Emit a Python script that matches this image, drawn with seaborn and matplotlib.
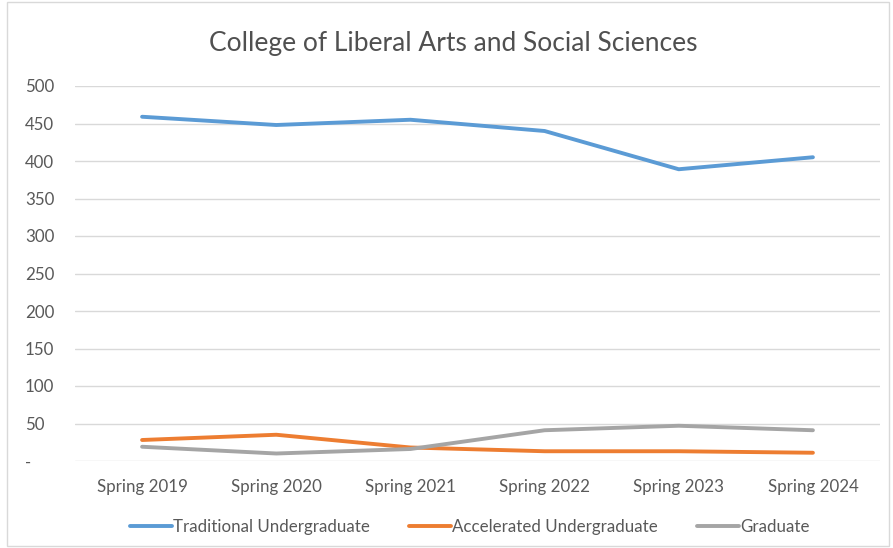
import matplotlib
matplotlib.use("Agg")
from matplotlib import pyplot as plt
from matplotlib.patches import Rectangle
import seaborn as sns
import pandas as pd
import numpy as np

terms = ["Spring 2019", "Spring 2020", "Spring 2021", "Spring 2022", "Spring 2023", "Spring 2024"]
traditional = [459, 448, 455, 440, 389, 405]
accelerated = [28, 35, 18, 13, 13, 11]
graduate = [19, 10, 16, 41, 47, 41]
series_names = ["Traditional Undergraduate", "Accelerated Undergraduate", "Graduate"]
colors = ["#5B9BD5", "#ED7D31", "#A5A5A5"]

df = pd.DataFrame({
    "term": terms * 3,
    "pos": list(range(len(terms))) * 3,
    "value": traditional + accelerated + graduate,
    "series": np.repeat(series_names, len(terms)),
})

sns.set_style("white")
plt.rcParams['font.family'] = ['Lato', 'DejaVu Sans']

fig = plt.figure(figsize=(8.93, 5.48), dpi=100)
ax = fig.add_axes([75 / 893, 1 - 461 / 548, 805 / 893, 375 / 548])

sns.lineplot(data=df, x="pos", y="value", hue="series", hue_order=series_names,
             palette=colors, linewidth=2.8, ax=ax, sort=False, legend=True)
for line in ax.lines:
    line.set_solid_capstyle("round")

ax.set_xlim(-0.5, 5.5)
ax.set_ylim(0, 500)
ax.set_yticks(range(0, 501, 50))
ax.set_yticklabels(["-"] + [str(v) for v in range(50, 501, 50)])
ax.set_xticks(range(len(terms)))
ax.set_xticklabels(terms)
ax.grid(axis="y", color="#D9D9D9", linewidth=1)
ax.set_axisbelow(True)
for s in ax.spines.values():
    s.set_visible(False)
ax.tick_params(axis="both", length=0, colors="#595959", labelsize=12.2)
ax.tick_params(axis="x", pad=13)
ax.tick_params(axis="y", pad=36)
for lbl in ax.get_yticklabels():
    lbl.set_horizontalalignment("left")
ax.set_xlabel("")
ax.set_ylabel("")

fig.text(0.508, 1 - 43 / 548, "College of Liberal Arts and Social Sciences",
         ha="center", va="center", fontsize=19, color="#505050")

handles, labels = ax.get_legend_handles_labels()
ax.legend(handles, labels, loc="center", bbox_to_anchor=(0.49, -(527 - 461) / 375),
          ncol=3, frameon=False, fontsize=12.2, handlelength=2.5, handletextpad=0.05,
          columnspacing=2.3, labelcolor="#595959")

fig.patches.append(Rectangle((7 / 893, 2 / 548), 882 / 893, 544 / 548, transform=fig.transFigure,
                             fill=False, edgecolor="#D9D9D9", linewidth=1))

plt.savefig("out.png", dpi=100)
